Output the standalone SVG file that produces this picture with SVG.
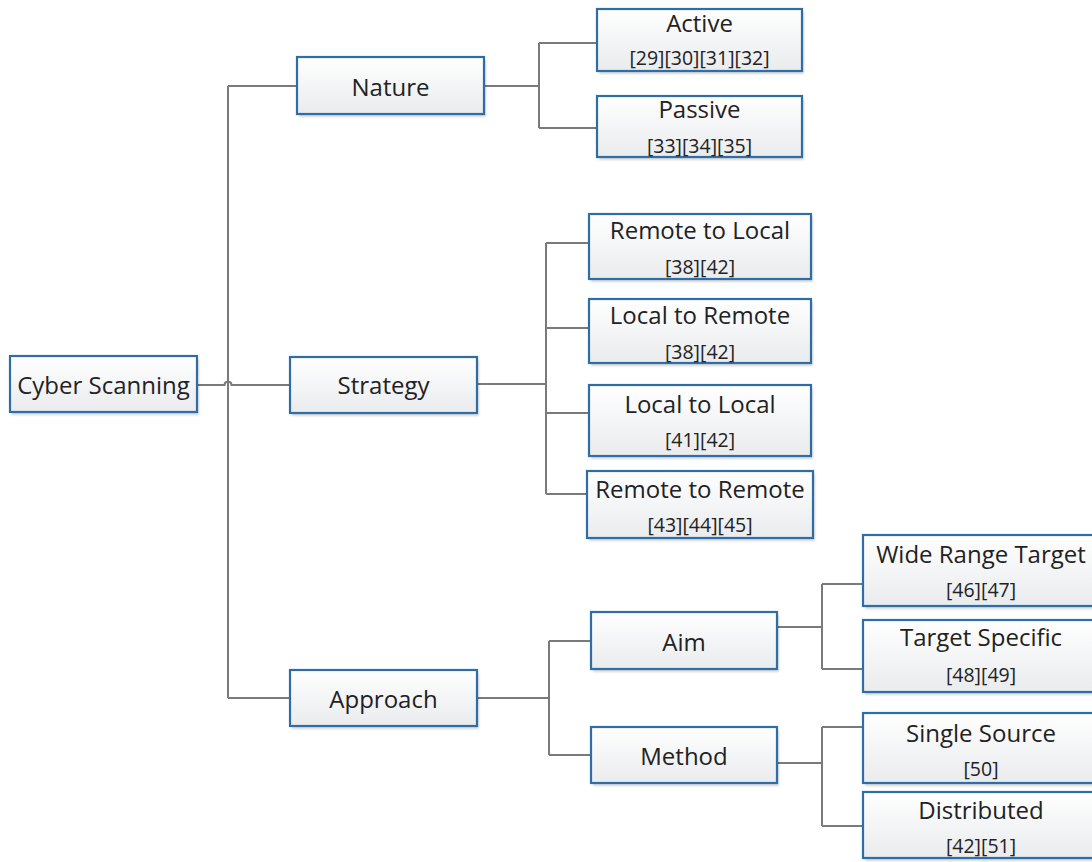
<svg xmlns="http://www.w3.org/2000/svg" width="1092" height="862" viewBox="0 0 1092 862">
<defs>
<linearGradient id="g" x1="0" y1="0" x2="0" y2="1">
<stop offset="0" stop-color="#FFFFFF"/>
<stop offset="1" stop-color="#E9EBED"/>
</linearGradient>
<filter id="blur" x="-10%" y="-10%" width="120%" height="130%">
<feGaussianBlur stdDeviation="1.2"/>
</filter>
</defs>
<style>
.b{fill:url(#g);stroke:#2E6DA6;stroke-width:2.2}
.sh{fill:#000;opacity:0.16;filter:url(#blur)}
.t{font-family:"Open Sans","Noto Sans",sans-serif;font-size:24px;fill:#222;text-anchor:middle}
.r{font-size:19.5px}
.c{stroke:#7A7A7A;stroke-width:2;fill:none}
</style>
<rect width="1092" height="862" fill="#FFFFFF"/>
<g id="connectors">
<path class="c" d="M197,385 H224.5 c0,-4.5 7,-4.5 7,0 H290"/>
<path class="c" d="M228,86 V698 M228,86 H297 M228,698 H290"/>
<path class="c" d="M484,86 H539 M539,43 V128 M539,43 H597 M539,128 H597"/>
<path class="c" d="M477,384 H546 M546,243 V494 M546,243 H589 M546,328 H589 M546,413 H589 M546,494 H587"/>
<path class="c" d="M477,698 H549 M549,641 V755 M549,641 H591 M549,755 H591"/>
<path class="c" d="M777,627 H822 M822,584 V669 M822,584 H863 M822,669 H863"/>
<path class="c" d="M777,763 H822 M822,727 V826 M822,727 H863 M822,826 H863"/>
</g>
<g id="cyber"><rect class="sh" x="12" y="359" width="187" height="56"/><rect class="b" x="10" y="356" width="187" height="56"/><text class="t" x="103.5" y="394">Cyber Scanning</text></g>
<g id="nature"><rect class="sh" x="299" y="60" width="187" height="57"/><rect class="b" x="297" y="57" width="187" height="57"/><text class="t" x="390.5" y="96">Nature</text></g>
<g id="strategy"><rect class="sh" x="292" y="360" width="187" height="56"/><rect class="b" x="290" y="357" width="187" height="56"/><text class="t" x="383.5" y="394">Strategy</text></g>
<g id="approach"><rect class="sh" x="292" y="673" width="187" height="56"/><rect class="b" x="290" y="670" width="187" height="56"/><text class="t" x="383.5" y="708">Approach</text></g>
<g id="active"><rect class="sh" x="599" y="12" width="205" height="62"/><rect class="b" x="597" y="9" width="205" height="62"/><text class="t" x="699.5" y="32">Active</text><text class="t r" x="699.5" y="65">[29][30][31][32]</text></g>
<g id="passive"><rect class="sh" x="599" y="99" width="205" height="61"/><rect class="b" x="597" y="96" width="205" height="61"/><text class="t" x="699.5" y="118">Passive</text><text class="t r" x="699.5" y="153">[33][34][35]</text></g>
<g id="remote-to-local"><rect class="sh" x="591" y="217" width="222" height="65"/><rect class="b" x="589" y="214" width="222" height="65"/><text class="t" x="700" y="239">Remote to Local</text><text class="t r" x="700" y="274">[38][42]</text></g>
<g id="local-to-remote"><rect class="sh" x="591" y="302" width="222" height="64"/><rect class="b" x="589" y="299" width="222" height="64"/><text class="t" x="700" y="324">Local to Remote</text><text class="t r" x="700" y="359">[38][42]</text></g>
<g id="local-to-local"><rect class="sh" x="591" y="388" width="222" height="71"/><rect class="b" x="589" y="385" width="222" height="71"/><text class="t" x="700" y="413">Local to Local</text><text class="t r" x="700" y="447">[41][42]</text></g>
<g id="remote-to-remote"><rect class="sh" x="589" y="474" width="226" height="67"/><rect class="b" x="587" y="471" width="226" height="67"/><text class="t" x="700" y="498">Remote to Remote</text><text class="t r" x="700" y="532">[43][44][45]</text></g>
<g id="aim"><rect class="sh" x="593" y="615" width="186" height="57"/><rect class="b" x="591" y="612" width="186" height="57"/><text class="t" x="684" y="651">Aim</text></g>
<g id="method"><rect class="sh" x="593" y="730" width="186" height="56"/><rect class="b" x="591" y="727" width="186" height="56"/><text class="t" x="684" y="765">Method</text></g>
<g id="wide-range-target"><rect class="sh" x="865" y="538" width="236" height="71"/><rect class="b" x="863" y="535" width="236" height="71"/><text class="t" x="981" y="563">Wide Range Target</text><text class="t r" x="981" y="597">[46][47]</text></g>
<g id="target-specific"><rect class="sh" x="865" y="623" width="236" height="72"/><rect class="b" x="863" y="620" width="236" height="72"/><text class="t" x="981" y="646">Target Specific</text><text class="t r" x="981" y="682">[48][49]</text></g>
<g id="single-source"><rect class="sh" x="865" y="716" width="236" height="70"/><rect class="b" x="863" y="713" width="236" height="70"/><text class="t" x="981" y="742">Single Source</text><text class="t r" x="981" y="776">[50]</text></g>
<g id="distributed"><rect class="sh" x="865" y="795" width="236" height="66"/><rect class="b" x="863" y="792" width="236" height="66"/><text class="t" x="981" y="819">Distributed</text><text class="t r" x="981" y="853">[42][51]</text></g>
</svg>
